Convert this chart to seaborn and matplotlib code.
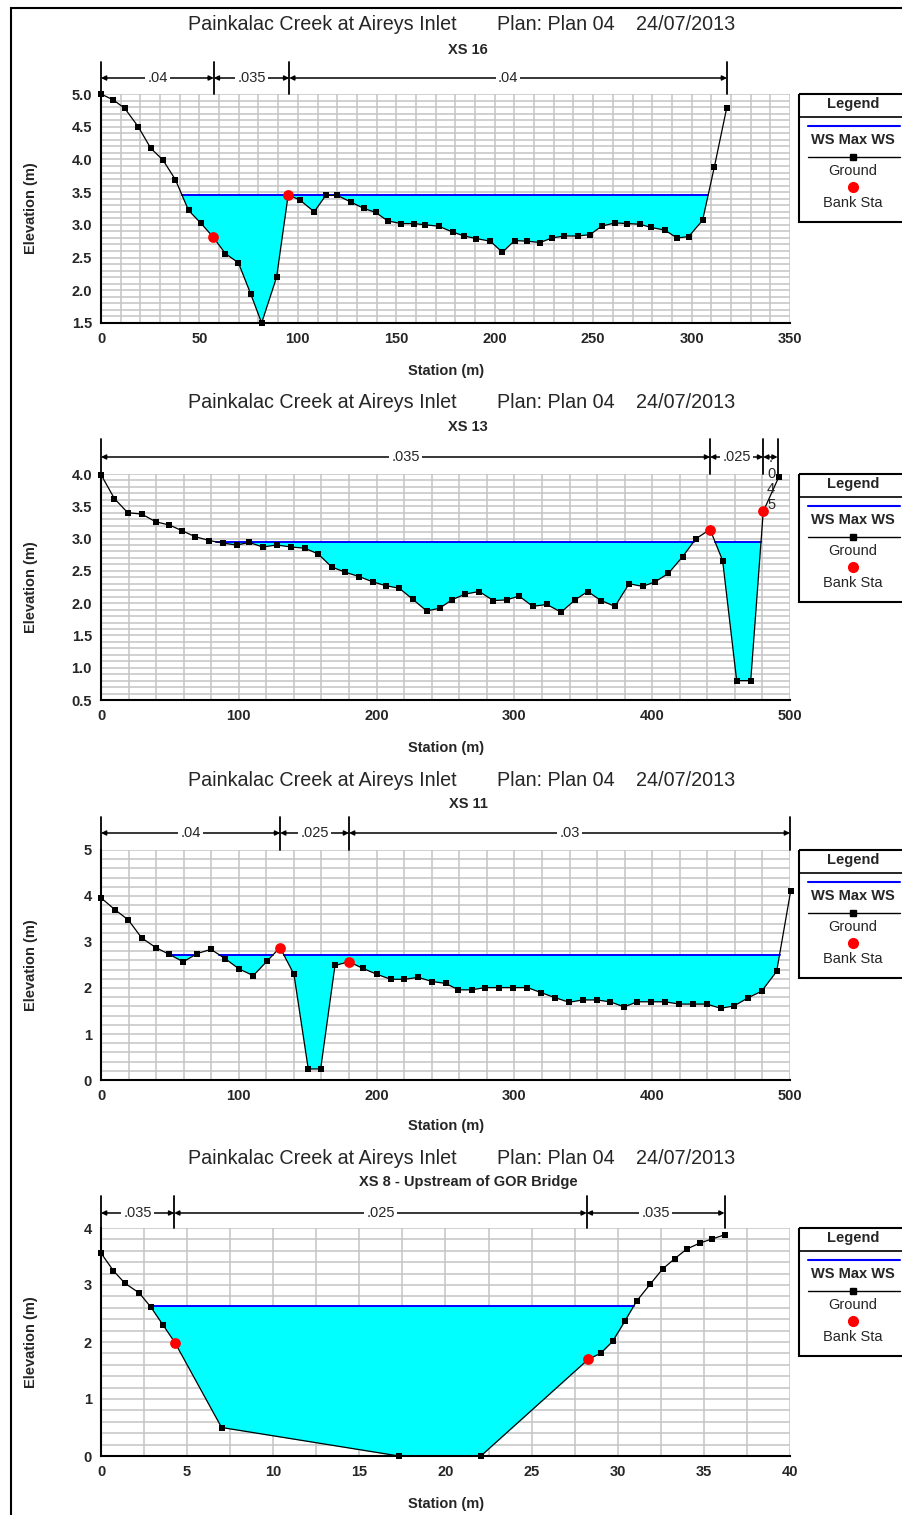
import numpy as np
import matplotlib
matplotlib.use("Agg")
import matplotlib.pyplot as plt
import seaborn as sns
from matplotlib.ticker import MultipleLocator, FormatStrFormatter
from matplotlib.patches import Rectangle
from matplotlib.transforms import blended_transform_factory

# ---------------------------------------------------------------- data
TITLE_REACH = "Painkalac Creek at Aireys Inlet"
TITLE_PLAN = "Plan: Plan 04"
TITLE_DATE = "24/07/2013"

# XS 16
xs16_name = "XS 16"
xs16_station = [0, 6.2, 12.1, 18.9, 25.3, 31.5, 37.8, 44.5, 50.6, 56.8, 63.2, 69.8,
                76.1, 81.6, 89.2, 95.1, 101.0, 108.3, 114.2, 120.1, 126.8, 133.6,
                139.5, 145.7, 152.4, 158.9, 164.8, 171.5, 178.6, 184.5, 190.7, 197.8,
                203.9, 210.1, 216.5, 223.1, 229.1, 235.4, 242.1, 248.3, 254.4, 261.0,
                267.3, 273.6, 279.5, 286.4, 292.6, 298.5, 305.6, 311.6, 317.8]
xs16_elev = [5.00, 4.91, 4.78, 4.50, 4.17, 3.99, 3.69, 3.22, 3.03, 2.82, 2.56, 2.42,
             1.94, 1.50, 2.20, 3.46, 3.38, 3.20, 3.45, 3.45, 3.35, 3.25,
             3.19, 3.06, 3.02, 3.02, 3.00, 2.98, 2.89, 2.83, 2.79, 2.75,
             2.58, 2.76, 2.75, 2.73, 2.80, 2.83, 2.83, 2.85, 2.98, 3.03,
             3.02, 3.01, 2.96, 2.92, 2.80, 2.82, 3.07, 3.89, 4.78]
xs16_ws = 3.45
xs16_bank_sta = [56.8, 95.1]
xs16_bank_elev = [2.82, 3.46]
xs16_n_edges = [0, 57.3, 95.6, 318]
xs16_n_labels = [".04", ".035", ".04"]

# XS 13
xs13_name = "XS 13"
xs13_station = [0, 9.7, 19.4, 29.5, 39.7, 49.6, 59.0, 68.2, 78.6, 88.3, 98.5, 107.6,
                117.3, 127.5, 137.9, 148.1, 157.7, 167.4, 177.1, 187.5, 197.1, 206.8,
                216.5, 226.2, 236.3, 245.7, 254.5, 264.2, 274.4, 284.8, 294.4, 303.4,
                313.3, 323.5, 333.9, 344.0, 353.2, 362.9, 373.0, 383.2, 393.1, 402.1,
                411.7, 422.1, 431.8, 442.0, 451.1, 461.3, 471.5, 480.6, 492.0]
xs13_elev = [3.99, 3.62, 3.40, 3.38, 3.26, 3.21, 3.12, 3.03, 2.97, 2.93, 2.90, 2.94,
             2.87, 2.90, 2.87, 2.85, 2.76, 2.56, 2.48, 2.41, 2.33, 2.27,
             2.23, 2.06, 1.88, 1.92, 2.05, 2.14, 2.18, 2.04, 2.05, 2.11,
             1.95, 1.98, 1.86, 2.05, 2.18, 2.04, 1.95, 2.30, 2.26, 2.33,
             2.46, 2.72, 3.00, 3.14, 2.66, 0.80, 0.80, 3.42, 3.96]
xs13_ws = 2.95
xs13_bank_sta = [442.0, 480.6]
xs13_bank_elev = [3.14, 3.42]
xs13_n_edges = [0, 442, 480.5, 491]
xs13_n_labels = [".035", ".025", ".045"]

# XS 11
xs11_name = "XS 11"
xs11_station = [0, 10.2, 19.8, 29.5, 39.7, 49.6, 59.7, 69.9, 79.8, 90.0, 100.4, 110.5,
                120.7, 129.9, 140.0, 150.4, 159.4, 169.8, 179.9, 189.8, 200.0, 210.2,
                220.2, 230.2, 240.4, 250.0, 259.4, 269.0, 278.7, 288.9, 299.3, 309.4,
                319.3, 329.5, 339.7, 349.6, 359.7, 369.4, 379.6, 389.2, 399.2, 409.3,
                419.5, 429.4, 439.5, 449.7, 459.4, 469.8, 479.4, 490.3, 500.5]
xs11_elev = [3.96, 3.70, 3.48, 3.09, 2.88, 2.73, 2.57, 2.75, 2.84, 2.64, 2.41, 2.27,
             2.59, 2.88, 2.30, 0.24, 0.24, 2.49, 2.57, 2.43, 2.30, 2.19,
             2.19, 2.23, 2.14, 2.10, 1.96, 1.96, 2.01, 2.01, 2.01, 2.01,
             1.90, 1.79, 1.69, 1.74, 1.74, 1.70, 1.59, 1.70, 1.70, 1.70,
             1.65, 1.65, 1.65, 1.56, 1.61, 1.79, 1.93, 2.36, 4.11]
xs11_ws = 2.72
xs11_bank_sta = [129.9, 179.9]
xs11_bank_elev = [2.88, 2.57]
xs11_n_edges = [0, 130, 180, 500]
xs11_n_labels = [".04", ".025", ".03"]

# XS 8
xs8_name = "XS 8 - Upstream of GOR Bridge"
xs8_station = [0, 0.72, 1.39, 2.22, 2.90, 3.62, 4.29, 7.0, 17.3, 22.05, 28.3, 29.0,
               29.7, 30.4, 31.1, 31.9, 32.6, 33.3, 34.0, 34.8, 35.5, 36.2]
xs8_elev = [3.56, 3.25, 3.03, 2.86, 2.61, 2.29, 1.99, 0.50, 0.00, 0.00, 1.70, 1.80,
            2.01, 2.36, 2.72, 3.02, 3.28, 3.46, 3.63, 3.74, 3.81, 3.88]
xs8_ws = 2.63
xs8_bank_sta = [4.29, 28.3]
xs8_bank_elev = [1.99, 1.70]
xs8_n_edges = [0, 4.25, 28.2, 36.2]
xs8_n_labels = [".035", ".025", ".035"]

# ---------------------------------------------------------------- layout
W, H = 903, 1515
sns.set_style("white")
NARROW = ["Liberation Sans Narrow", "Liberation Sans", "DejaVu Sans"]
plt.rcParams["font.family"] = NARROW

fig = plt.figure(figsize=(W / 100, H / 100), dpi=100)
fig.patch.set_facecolor("white")

AX_L, AX_R = 101, 790

panels = [
    dict(name=xs16_name, sta=xs16_station, elev=xs16_elev, ws=xs16_ws,
         bsta=xs16_bank_sta, belev=xs16_bank_elev, nedge=xs16_n_edges, nlab=xs16_n_labels,
         top=94, bot=323, xlim=(0, 350), ylim=(1.5, 5.0), xmaj=50, xmin=10,
         ymaj=0.5, ymin=0.1, yfmt="%.1f", title_y=25, sub_y=50, bar_y=78, vtop=62,
         xlab_y=371),
    dict(name=xs13_name, sta=xs13_station, elev=xs13_elev, ws=xs13_ws,
         bsta=xs13_bank_sta, belev=xs13_bank_elev, nedge=xs13_n_edges, nlab=xs13_n_labels,
         top=474, bot=700, xlim=(0, 500), ylim=(0.5, 4.0), xmaj=100, xmin=20,
         ymaj=0.5, ymin=0.1, yfmt="%.1f", title_y=403, sub_y=427, bar_y=457, vtop=439,
         xlab_y=748),
    dict(name=xs11_name, sta=xs11_station, elev=xs11_elev, ws=xs11_ws,
         bsta=xs11_bank_sta, belev=xs11_bank_elev, nedge=xs11_n_edges, nlab=xs11_n_labels,
         top=850, bot=1080, xlim=(0, 500), ylim=(0, 5), xmaj=100, xmin=20,
         ymaj=1, ymin=0.2, yfmt="%d", title_y=780, sub_y=804, bar_y=833, vtop=817,
         xlab_y=1126),
    dict(name=xs8_name, sta=xs8_station, elev=xs8_elev, ws=xs8_ws,
         bsta=xs8_bank_sta, belev=xs8_bank_elev, nedge=xs8_n_edges, nlab=xs8_n_labels,
         top=1228, bot=1456, xlim=(0, 40), ylim=(0, 4), xmaj=5, xmin=2.5,
         ymaj=1, ymin=0.2, yfmt="%d", title_y=1158, sub_y=1182, bar_y=1213, vtop=1196,
         xlab_y=1504),
]

# overlay in page pixels for page furniture
ov = fig.add_axes([0, 0, 1, 1], zorder=5)
ov.set_xlim(0, W)
ov.set_ylim(H, 0)
ov.axis("off")
ov.patch.set_alpha(0)

# page frame
ov.plot([11, 11, W + 5], [H + 5, 8, 8], color="black", lw=1.5, solid_joinstyle="miter")


def wet_intervals(x, z, ws):
    """Stations where the water surface lies above the ground."""
    x = np.asarray(x, float)
    z = np.asarray(z, float)
    wet = z <= ws + 1e-9
    spans, start = [], None
    for i in range(len(x)):
        if wet[i] and start is None:
            if i == 0:
                start = x[0]
            else:
                start = x[i - 1] + (ws - z[i - 1]) / (z[i] - z[i - 1]) * (x[i] - x[i - 1])
        if not wet[i] and start is not None:
            end = x[i - 1] + (ws - z[i - 1]) / (z[i] - z[i - 1]) * (x[i] - x[i - 1])
            spans.append((start, end))
            start = None
    if start is not None:
        spans.append((start, x[-1]))
    return spans


def draw_legend(top):
    box = Rectangle((799, top), 130, 128, fill=False, lw=1.5, ec="black", clip_on=False)
    ov.add_patch(box)
    ov.plot([799, W + 5], [top + 23, top + 23], color="black", lw=1.2)
    ov.text(853, top + 10, "Legend", ha="center", va="center", fontsize=10.5,
            fontweight="bold")
    ov.plot([808, 900], [top + 32, top + 32], color="#0000ff", lw=1.5)
    ov.text(853, top + 46, "WS Max WS", ha="center", va="center", fontsize=10.5,
            fontweight="bold")
    ov.plot([808, 900], [top + 63, top + 63], color="black", lw=1.0)
    ov.plot([853], [top + 63], marker="s", ms=4, color="black")
    ov.text(853, top + 77, "Ground", ha="center", va="center", fontsize=10.5)
    ov.plot([853], [top + 93], marker="o", ms=7, color="#ff0000", mec="#ff0000")
    ov.text(853, top + 109, "Bank Sta", ha="center", va="center", fontsize=10.5)


for p in panels:
    top, bot = p["top"], p["bot"]
    ax = fig.add_axes([AX_L / W, 1 - bot / H, (AX_R - AX_L) / W, (bot - top) / H])
    ax.set_xlim(*p["xlim"])
    ax.set_ylim(*p["ylim"])
    ax.set_facecolor("white")

    sta = np.asarray(p["sta"], float)
    elev = np.asarray(p["elev"], float)
    ws = p["ws"]

    # grid
    ax.xaxis.set_major_locator(MultipleLocator(p["xmaj"]))
    ax.xaxis.set_minor_locator(MultipleLocator(p["xmin"]))
    ax.yaxis.set_major_locator(MultipleLocator(p["ymaj"]))
    ax.yaxis.set_minor_locator(MultipleLocator(p["ymin"]))
    ax.yaxis.set_major_formatter(FormatStrFormatter(p["yfmt"]))
    ax.grid(True, which="both", color="#c4c4c4", lw=1.1, zorder=0)
    ax.set_axisbelow(True)

    # water
    ax.fill_between(sta, elev, ws, where=elev <= ws + 1e-9, interpolate=True,
                    color="#00ffff", lw=0, zorder=2)
    for a, b in wet_intervals(sta, elev, ws):
        ax.plot([a, b], [ws, ws], color="#0000ff", lw=1.4, zorder=3)

    # ground
    sns.lineplot(x=sta, y=elev, ax=ax, color="black", lw=0.9, marker="s",
                 markersize=4.2, markeredgewidth=0, estimator=None, sort=False,
                 zorder=4, clip_on=False)
    # bank stations
    sns.scatterplot(x=p["bsta"], y=p["belev"], ax=ax, color="#ff0000", s=60,
                    edgecolor="#ff0000", linewidth=0, zorder=6, clip_on=False)

    # spines / ticks
    for s in ("top", "right"):
        ax.spines[s].set_visible(False)
    for s in ("left", "bottom"):
        ax.spines[s].set_color("black")
        ax.spines[s].set_linewidth(1.5)
        ax.spines[s].set_zorder(7)
    ax.tick_params(which="major", direction="out", length=5, width=1.2, color="black",
                   labelsize=10.5, pad=1.5)
    ax.tick_params(which="minor", direction="out", length=4, width=1.0, color="black")
    for lab in ax.get_xticklabels() + ax.get_yticklabels():
        lab.set_fontweight("bold")
    ax.set_xlabel("")
    ax.set_ylabel("")

    # titles and axis labels (page pixels)
    ov.text(188, p["title_y"], TITLE_REACH, ha="left", va="center", fontsize=14.2)
    ov.text(497, p["title_y"], TITLE_PLAN, ha="left", va="center", fontsize=14.2)
    ov.text(636, p["title_y"], TITLE_DATE, ha="left", va="center", fontsize=14.2)
    ov.text(468, p["sub_y"], p["name"], ha="center", va="center", fontsize=10.5,
            fontweight="bold")
    ov.text(446, p["xlab_y"], "Station (m)", ha="center", va="center", fontsize=10.5,
            fontweight="bold")
    ov.text(31, (top + bot) / 2, "Elevation (m)", ha="center", va="center",
            fontsize=10.5, rotation=90, fontweight="bold")

    # Manning's n bar above the section
    tr = blended_transform_factory(ax.transData, ov.transData)
    edges = p["nedge"]
    for e in edges:
        ax.plot([e, e], [p["vtop"], top], transform=tr, color="black", lw=1.3,
                clip_on=False, zorder=8)
    for i, lab in enumerate(p["nlab"]):
        a, b = edges[i], edges[i + 1]
        width_px = (b - a) / (p["xlim"][1] - p["xlim"][0]) * (AX_R - AX_L)
        ax.annotate("", xy=(b, p["bar_y"]), xycoords=tr, xytext=(a, p["bar_y"]),
                    textcoords=tr, annotation_clip=False,
                    arrowprops=dict(arrowstyle="<|-|>", color="black", lw=1.1,
                                    mutation_scale=7, shrinkA=0, shrinkB=0))
        if width_px > 40:
            ax.text((a + b) / 2, p["bar_y"], lab, transform=tr, ha="center",
                    va="center", fontsize=10.5, zorder=9,
                    bbox=dict(facecolor="white", edgecolor="none", pad=1.5))
        else:
            # too narrow for the label: stack its characters below the bar
            ax.text((a + b) / 2 + 0.5, p["bar_y"] - 6, "\n".join(lab), transform=tr,
                    ha="center", va="top", fontsize=10.5, linespacing=1.15,
                    zorder=9)

    draw_legend(top)

fig.savefig("out.png", dpi=100, facecolor="white")
